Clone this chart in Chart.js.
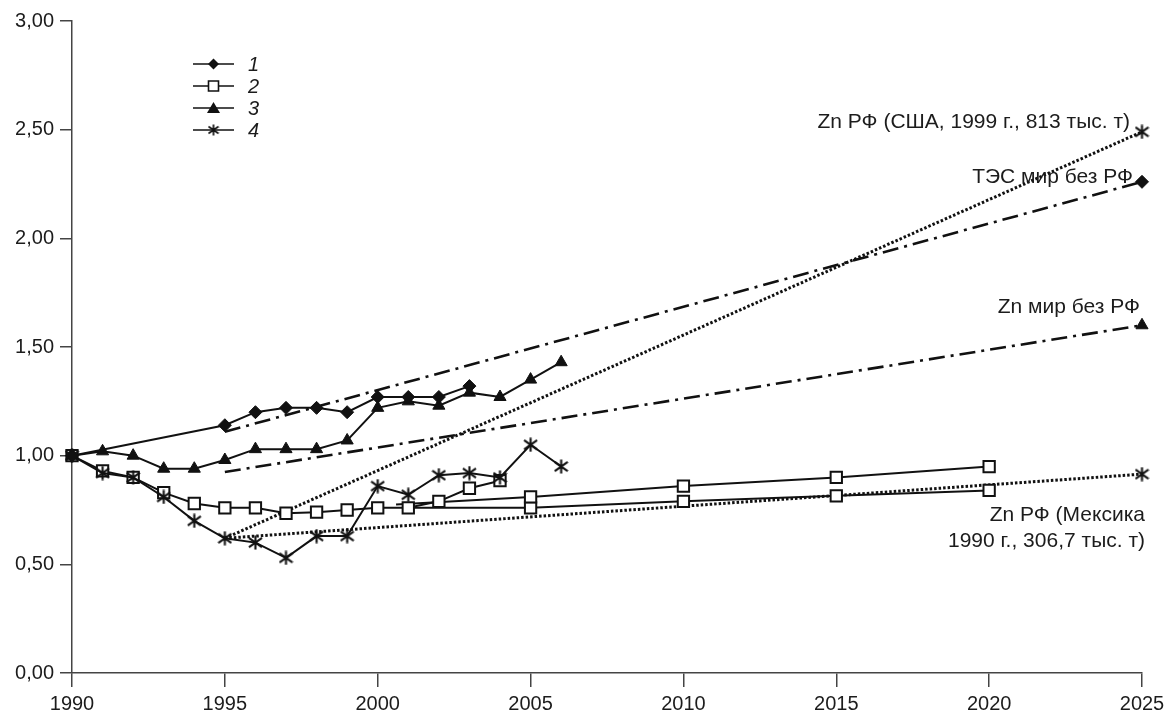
<!DOCTYPE html>
<html lang="ru">
<head>
<meta charset="utf-8">
<title>Zn РФ / ТЭС, 1990–2025</title>
<script src="https://cdn.jsdelivr.net/npm/chart.js@4.4.1/dist/chart.umd.min.js"></script>
<style>
  html, body { margin: 0; padding: 0; background: #fff; }
  #chart { display: block; }
</style>
</head>
<body>
<canvas id="chart" width="1173" height="711"></canvas>
<script>
"use strict";

/* ------------------------------------------------------------------
 * Data
 * ------------------------------------------------------------------ */
const years1  = [1990, 1995, 1996, 1997, 1998, 1999, 2000, 2001, 2002, 2003];
const series1 = [1.00, 1.14, 1.20, 1.22, 1.22, 1.20, 1.27, 1.27, 1.27, 1.32];

const years2  = [1990, 1991, 1992, 1993, 1994, 1995, 1996, 1997, 1998, 1999, 2000, 2001, 2002, 2003, 2004];
const series2 = [1.00, 0.93, 0.90, 0.83, 0.78, 0.76, 0.76, 0.735, 0.74, 0.75, 0.76, 0.76, 0.79, 0.85, 0.885];

const years3  = [1990, 1991, 1992, 1993, 1994, 1995, 1996, 1997, 1998, 1999, 2000, 2001, 2002, 2003, 2004, 2005, 2006];
const series3 = [1.00, 1.02, 1.00, 0.94, 0.94, 0.98, 1.03, 1.03, 1.03, 1.07, 1.22, 1.25, 1.23, 1.29, 1.27, 1.35, 1.43];

const years4  = [1990, 1991, 1992, 1993, 1994, 1995, 1996, 1997, 1998, 1999, 2000, 2001, 2002, 2003, 2004, 2005, 2006];
const series4 = [1.00, 0.92, 0.90, 0.81, 0.70, 0.62, 0.60, 0.53, 0.63, 0.63, 0.86, 0.82, 0.91, 0.92, 0.90, 1.05, 0.95];

// two forecast branches of series 2
const forecastYearsA = [2000.6, 2005, 2010, 2015, 2020];
const forecastA      = [0.775, 0.81, 0.86, 0.90, 0.95];
const forecastYearsB = [2001, 2005, 2010, 2015, 2020];
const forecastB      = [0.76, 0.76, 0.79, 0.815, 0.84];

// trend lines 1995 -> 2025
const trendYears    = [1995, 2025];
const trendTes      = [1.11, 2.26];
const trendZnWorld  = [0.925, 1.60];
const trendZnUsa    = [0.62, 2.49];
const trendZnMexico = [0.62, 0.915];

const legendLabels = ["1", "2", "3", "4"];
const noteUsa      = "Zn РФ (США, 1999 г., 813 тыс. т)";
const noteTes      = "ТЭС мир без РФ";
const noteZnWorld  = "Zn мир без РФ";
const noteMexico   = ["Zn РФ (Мексика", "1990 г., 306,7 тыс. т)"];

/* ------------------------------------------------------------------
 * Styles
 * ------------------------------------------------------------------ */
const INK       = "#111";
const AXIS      = "#444";
const TEXT      = "#1c1c1c";
const FONT_FACE = "'Liberation Sans', Arial, sans-serif";
const DASH_DOT  = [16, 6, 3, 6];
const DOTTED    = [2.5, 2];

function toPoints(xs, ys) {
  return xs.map(function (x, i) { return { x: x, y: ys[i] }; });
}

function makeAsterisk(size, lw) {
  const c = document.createElement("canvas");
  c.width = size;
  c.height = size;
  const g = c.getContext("2d");
  const m = size / 2;
  const d = size / 2 - 1;
  g.strokeStyle = INK;
  g.lineWidth = lw;
  g.beginPath();
  g.moveTo(m, 0.5);             g.lineTo(m, size - 0.5);
  g.moveTo(m - d, m - d * 0.7); g.lineTo(m + d, m + d * 0.7);
  g.moveTo(m + d, m - d * 0.7); g.lineTo(m - d, m + d * 0.7);
  g.stroke();
  return c;
}

const asterisk      = makeAsterisk(15, 2.1);
const asteriskSmall = makeAsterisk(12, 1.7);

const MARK = {
  diamond:  { pointStyle: "rectRot",  pointRadius: 6.5, pointBackgroundColor: INK,    pointBorderColor: INK, pointBorderWidth: 1 },
  square:   { pointStyle: "rect",     pointRadius: 8,   pointBackgroundColor: "#fff", pointBorderColor: INK, pointBorderWidth: 2 },
  triangle: { pointStyle: "triangle", pointRadius: 7,   pointBackgroundColor: INK,    pointBorderColor: INK, pointBorderWidth: 1 },
  asterisk: { pointStyle: asterisk,   pointRadius: 7,   pointBackgroundColor: INK,    pointBorderColor: INK, pointBorderWidth: 0 },
};

function seriesDataset(xs, ys, mark, radii) {
  const ds = Object.assign({
    data: toPoints(xs, ys),
    borderColor: INK,
    borderWidth: 2,
    tension: 0,
    clip: false,
    fill: false,
  }, MARK[mark]);
  if (radii) ds.pointRadius = radii;
  return ds;
}

function trendDataset(ys, mark, dash, width) {
  return Object.assign({
    data: toPoints(trendYears, ys),
    borderColor: INK,
    borderWidth: width,
    borderDash: dash,
    borderCapStyle: "butt",
    tension: 0,
    clip: false,
    fill: false,
  }, MARK[mark], { pointRadius: [0, MARK[mark].pointRadius] });
}

/* ------------------------------------------------------------------
 * Legend + right-hand notes (drawn on the canvas)
 * ------------------------------------------------------------------ */
function drawMarker(ctx, kind, x, y) {
  ctx.save();
  ctx.fillStyle = INK;
  ctx.strokeStyle = INK;
  ctx.lineWidth = 1.6;
  ctx.beginPath();
  if (kind === "diamond") {
    ctx.moveTo(x - 5.5, y); ctx.lineTo(x, y - 5.5); ctx.lineTo(x + 5.5, y); ctx.lineTo(x, y + 5.5);
    ctx.closePath(); ctx.fill();
  } else if (kind === "square") {
    ctx.fillStyle = "#fff";
    ctx.rect(x - 5, y - 5, 10, 10);
    ctx.fill(); ctx.stroke();
  } else if (kind === "triangle") {
    ctx.moveTo(x - 6.5, y + 5); ctx.lineTo(x, y - 6); ctx.lineTo(x + 6.5, y + 5);
    ctx.closePath(); ctx.fill();
  } else {
    ctx.drawImage(asteriskSmall, x - asteriskSmall.width / 2, y - asteriskSmall.height / 2);
  }
  ctx.restore();
}

const notesPlugin = {
  id: "notes",
  afterDatasetsDraw: function (chart) {
    const ctx = chart.ctx;
    const xs = chart.scales.x;
    const ys = chart.scales.y;
    const xEnd = xs.getPixelForValue(trendYears[1]);

    ctx.save();
    ctx.font = "21px " + FONT_FACE;
    ctx.fillStyle = TEXT;
    ctx.textAlign = "right";
    ctx.textBaseline = "alphabetic";
    ctx.fillText(noteUsa,     xEnd - 12, ys.getPixelForValue(trendZnUsa[1]) - 4);
    ctx.fillText(noteTes,     xEnd - 9,  ys.getPixelForValue(trendTes[1]) + 1);
    ctx.fillText(noteZnWorld, xEnd - 2,  ys.getPixelForValue(trendZnWorld[1]) - 12);
    const yMex = ys.getPixelForValue(trendZnMexico[1]);
    ctx.fillText(noteMexico[0], xEnd + 3, yMex + 47);
    ctx.fillText(noteMexico[1], xEnd + 3, yMex + 73);

    // legend
    const kinds = ["diamond", "square", "triangle", "asterisk"];
    ctx.font = "italic 20px " + FONT_FACE;
    ctx.textAlign = "left";
    ctx.textBaseline = "middle";
    legendLabels.forEach(function (label, i) {
      const y = 64 + i * 22;
      ctx.strokeStyle = INK;
      ctx.lineWidth = 1.6;
      ctx.beginPath();
      ctx.moveTo(193, y);
      ctx.lineTo(234, y);
      ctx.stroke();
      drawMarker(ctx, kinds[i], 213.5, y);
      ctx.fillText(label, 248, y + 1);
    });
    ctx.restore();
  },
};

/* ------------------------------------------------------------------
 * Chart
 * ------------------------------------------------------------------ */
const axisGrid = {
  drawOnChartArea: false,
  drawTicks: true,
  color: AXIS,
  lineWidth: 1.5,
};

new Chart(document.getElementById("chart").getContext("2d"), {
  type: "line",
  data: {
    datasets: [
      seriesDataset(years1, series1, "diamond"),
      seriesDataset(years3, series3, "triangle"),
      seriesDataset(years4, series4, "asterisk"),
      seriesDataset(years2, series2, "square"),
      seriesDataset(forecastYearsA, forecastA, "square", [0, 8, 8, 8, 8]),
      seriesDataset(forecastYearsB, forecastB, "square", [0, 8, 8, 8, 8]),
      trendDataset(trendTes,      "diamond",  DASH_DOT, 2.6),
      trendDataset(trendZnWorld,  "triangle", DASH_DOT, 2.6),
      trendDataset(trendZnUsa,    "asterisk", DOTTED, 3),
      trendDataset(trendZnMexico, "asterisk", DOTTED, 3),
    ],
  },
  options: {
    responsive: false,
    animation: false,
    events: [],
    layout: { padding: { top: 21, right: 31, left: 0, bottom: 0 } },
    plugins: {
      legend:  { display: false },
      tooltip: { enabled: false },
    },
    scales: {
      x: {
        type: "linear",
        min: 1990,
        max: 2025,
        grid: Object.assign({ tickLength: 14 }, axisGrid),
        border: { display: true, color: AXIS, width: 1.5 },
        ticks: {
          stepSize: 5,
          padding: 5,
          color: TEXT,
          font: { family: FONT_FACE, size: 20 },
          maxRotation: 0,
          callback: function (v) { return String(v); },
        },
        afterFit: function (s) { s.height = 38; },
      },
      y: {
        min: 0,
        max: 3,
        grid: Object.assign({ tickLength: 12 }, axisGrid),
        border: { display: true, color: AXIS, width: 1.5 },
        ticks: {
          stepSize: 0.5,
          padding: 6,
          color: TEXT,
          font: { family: FONT_FACE, size: 20 },
          callback: function (v) { return v.toFixed(2).replace(".", ","); },
        },
        afterFit: function (s) { s.width = 72; },
      },
    },
  },
  plugins: [notesPlugin],
});
</script>
</body>
</html>
